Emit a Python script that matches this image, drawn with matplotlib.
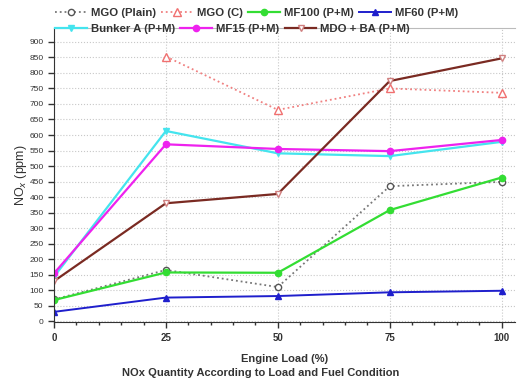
import matplotlib
matplotlib.use("Agg")
import matplotlib.pyplot as plt
from matplotlib.ticker import MultipleLocator

plt.rcParams['font.family'] = ['Liberation Sans', 'DejaVu Sans']

load = [0, 25, 50, 75, 100]
load_c = [25, 50, 75, 100]

mgo_plain = [70, 165, 110, 435, 449]
mgo_c = [853, 681, 750, 736]
mf100 = [68, 157, 156, 358, 463]
mf60 = [30, 76, 81, 93, 98]
bunker_a = [143, 613, 541, 532, 578]
mf15 = [154, 570, 555, 548, 584]
mdo_ba = [129, 380, 410, 774, 847]

fig = plt.figure(figsize=(5.21, 3.83), dpi=100)
ax = fig.add_axes([0.1036, 0.159, 0.885, 0.768])

h1, = ax.plot(load, mgo_plain, ls=':', color='#777777', lw=1.3, marker='o', ms=4.5,
              mfc='white', mec='#555555', mew=1.0, label='MGO (Plain)')
h2, = ax.plot(load_c, mgo_c, ls=':', color='#f08080', lw=1.3, marker='^', ms=5.5,
              mfc='white', mec='#f07070', mew=1.0, label='MGO (C)')
h3, = ax.plot(load, mf100, ls='-', color='#33dd33', lw=1.6, marker='o', ms=4.5,
              mfc='#33dd33', mec='#33dd33', label='MF100 (P+M)')
h4, = ax.plot(load, mf60, ls='-', color='#1f1fcc', lw=1.4, marker='^', ms=4.5,
              mfc='#1f1fcc', mec='#1f1fcc', label='MF60 (P+M)')
h5, = ax.plot(load, bunker_a, ls='-', color='#44e4ee', lw=1.6, marker='v', ms=4.5,
              mfc='#44e4ee', mec='#44e4ee', label='Bunker A (P+M)')
h6, = ax.plot(load, mf15, ls='-', color='#ee22ee', lw=1.6, marker='o', ms=4.5,
              mfc='#ee22ee', mec='#ee22ee', label='MF15 (P+M)')
h7, = ax.plot(load, mdo_ba, ls='-', color='#7a2a22', lw=1.6, marker='v', ms=5,
              mfc='white', mec='#d08080', mew=1.0, label='MDO + BA (P+M)')

ax.set_xlim(0, 103)
ax.set_ylim(-3, 945)
ax.xaxis.set_major_locator(MultipleLocator(25))
ax.xaxis.set_minor_locator(MultipleLocator(5))
ax.yaxis.set_major_locator(MultipleLocator(50))
ax.grid(True, which='major', ls=':', color='#c8c8c8', lw=0.8)
ax.set_axisbelow(True)

ax.spines['right'].set_visible(False)
ax.spines['top'].set_color('#bbbbbb')
ax.spines['left'].set_color('#333333')
ax.spines['bottom'].set_color('#333333')

ax.tick_params(axis='both', which='major', direction='out', length=4, width=1,
               colors='#333333', labelsize=6)
ax.tick_params(axis='x', which='minor', direction='out', length=2.5, width=1,
               colors='#333333')
ax.tick_params(axis='x', labelsize=7)
for lbl in ax.get_xticklabels():
    lbl.set_fontweight('bold')

ax.set_ylabel('NO$_x$ (ppm)', fontsize=9, color='#333333', labelpad=0)
ax.set_xlabel('Engine Load (%)', fontsize=8, fontweight='bold', color='#333333',
              labelpad=8)
fig.text(0.5, 0.026, 'NOx Quantity According to Load and Fuel Condition',
         ha='center', va='center', fontsize=8, fontweight='bold', color='#333333')

leg_kw = dict(frameon=False, handlelength=2.8, handletextpad=0.35,
              columnspacing=0.45, borderaxespad=0,
              prop={'weight': 'bold', 'size': 8.2})
leg1 = fig.legend(handles=[h1, h2, h3, h4], ncol=4,
                  loc='center left', bbox_to_anchor=(0.097, 0.965), **leg_kw)
leg2 = fig.legend(handles=[h5, h6, h7], ncol=3,
                  loc='center left', bbox_to_anchor=(0.097, 0.925), **leg_kw)
for leg in (leg1, leg2):
    for t in leg.get_texts():
        t.set_color('#333333')

fig.savefig('out.png', dpi=100)
